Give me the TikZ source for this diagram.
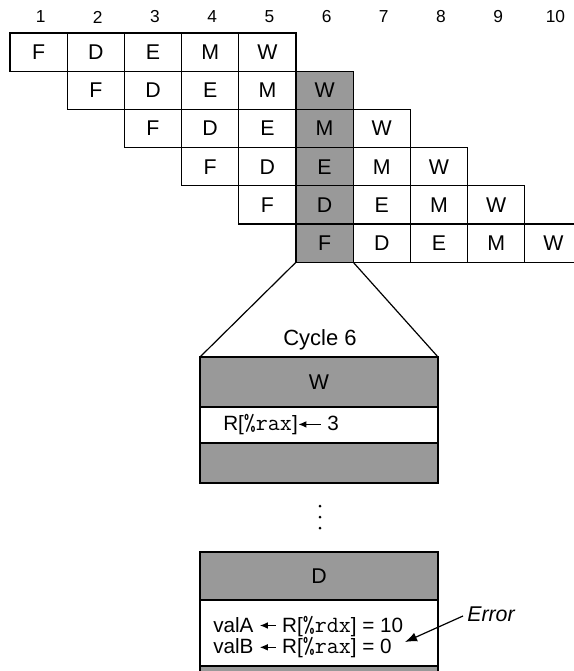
\documentclass[tikz,border=0pt]{standalone}
\usepackage{fontspec}
\setmainfont{Liberation Sans}
\usetikzlibrary{arrows.meta}
\newcommand\larr[1]{\tikz[baseline=-0.6ex]\draw[line width=0.9pt,{Latex[length=6pt,width=5pt]}-] (0pt,0pt) -- (#1,0pt);}
\newcommand\reg[1]{{\fontsize{17.5}{15}\selectfont\ttfamily\%#1}}
\begin{document}
\begin{tikzpicture}[x=0.75pt,y=-0.75pt,
  cell/.style={draw, line width=0.9pt, minimum width=42.9pt, minimum height=28.65pt,
    inner sep=0pt, outer sep=0pt, font=\fontsize{16}{18}\selectfont},
  shaded/.style={fill=black!40},
  colnum/.style={font=\fontsize{13}{15}\selectfont, inner sep=0pt},
  band/.style={draw, line width=0.9pt, minimum width=178.5pt, inner sep=0pt, outer sep=0pt,
    anchor=north west, font=\fontsize{16}{18}\selectfont},
  txt/.style={inner sep=0pt, font=\fontsize{15.5}{17}\selectfont},
  line/.style={line width=0.9pt},
]
\clip (0,0) rectangle (574,671);
% column numbers
\foreach \i in {1,...,10} \node[colnum] (n\i) at ({10+57.2*(\i-0.5)+2},17) {\i};
% pipeline cells
\foreach \r in {1,...,6} {
  \foreach \s [count=\k from 0] in {F,D,E,M,W} {
    \pgfmathtruncatemacro\c{\r+\k}
    \ifnum\c=6 \def\cf{shaded}\else\def\cf{}\fi
    \node[cell,\cf] (c-\r-\c) at ({10+57.2*(\c-0.5)},{33+38.2*(\r-0.5)}) {\s};
  }
}
% cycle 6 detail, first box
\node[band,shaded,minimum height=37.5pt] (b1) at (200,357) {W};
\node[band,minimum height=27pt] (b2) at (200,407) {};
\node[band,shaded,minimum height=30pt] (b3) at (200,443) {};
\node[txt,anchor=west] (t1) at (223,425) {R[\reg{rax}]\larr{17pt} 3};
% trapezoid
\draw[line] (c-6-6.south west) -- (b1.north west);
\draw[line] (c-6-6.south east) -- (b1.north east);
\node[txt,font=\fontsize{16.5}{18}\selectfont] (cyc) at (320,340) {Cycle 6};
% dots
\foreach \y in {506,517,528} \fill (320,\y) circle (1.5);
% second box
\node[band,shaded,minimum height=36pt] (d1) at (200,552) {D};
\node[band,minimum height=49.5pt] (d2) at (200,600) {};
\node[band,shaded,minimum height=20pt] (d3) at (200,666) {};
\node[txt,anchor=west,align=left,font=\fontsize{15.5}{15}\selectfont] (vals) at (213,637)
  {valA \larr{12pt} R[\reg{rdx}] = 10\\valB \larr{12pt} R[\reg{rax}] = 0};
% error
\node[txt,anchor=west,font=\fontsize{16}{18}\itshape] (err) at (467,614) {Error};
\coordinate (tip) at (405,642);
\draw[line,-{Latex[length=9pt,width=7pt]}] (err.west) ++(-4,2) -- (tip);
\end{tikzpicture}
\end{document}
